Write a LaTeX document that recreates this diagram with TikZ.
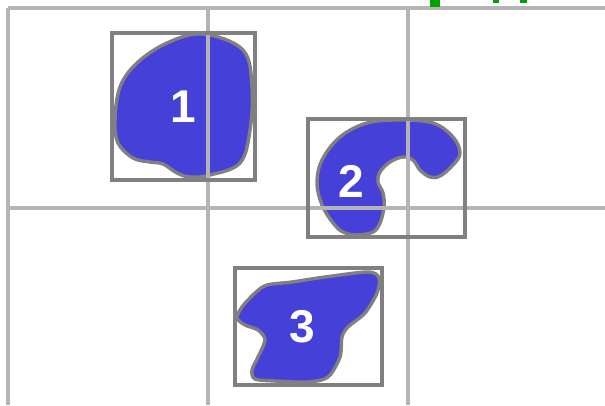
\documentclass[tikz,border=0pt]{standalone}
\usepackage{fontspec}
\setmainfont{Liberation Sans}
\definecolor{gridgray}{HTML}{B4B4B4}
\definecolor{boxgray}{HTML}{808080}
\definecolor{blobblue}{HTML}{4440D8}
\definecolor{markgreen}{HTML}{00A000}
\begin{document}
\begin{tikzpicture}[x=1pt,y=-1pt,
  gridline/.style={draw=gridgray,line width=3.2pt},
  bbox/.style={draw=boxgray,line width=3.4pt},
  blob/.style={fill=blobblue,draw=boxgray,line width=3.4pt},
  lbl/.style={text=white,font=\bfseries\fontsize{46}{46}\selectfont,inner sep=0pt},
  gmark/.style={fill=markgreen,draw=none}]
\useasboundingbox (0,0) rectangle (605,405);
% blobs
\path[blob] plot[smooth cycle,tension=0.6] coordinates {
 (203,34) (243,50) (252,87) (250,130) (240,163) (210,175) (190,177) (177,173)
 (163,164) (150,162) (133,158) (118,143) (115,120) (120,87) (137,63) (167,43)};
\path[blob] plot[smooth cycle,tension=0.6] coordinates {
 (333,223) (322,205) (317,183) (322,160) (340,137) (367,123) (400,120) (433,123)
 (453,137) (460,153) (453,165) (440,176) (430,177) (420,170) (413,160) (403,157)
 (390,162) (380,172) (378,182) (383,193) (384,207) (380,223) (373,232) (357,235) (343,232)};
\path[blob] plot[smooth cycle,tension=0.5] coordinates {
 (267,285) (292,282) (325,277) (368,272) (379,278) (377,293) (365,313) (348,327)
 (342,337) (340,357) (328,377) (308,382) (275,381) (255,379) (252,370) (258,357)
 (265,340) (258,330) (245,325) (237,318) (242,307) (255,293)};
% grid
\coordinate (g00) at (8,8);
\coordinate (g0e) at (605,8);
\coordinate (g10) at (8,208);
\coordinate (g1e) at (605,208);
\coordinate (v1t) at (208,8);
\coordinate (v1b) at (208,405);
\coordinate (v2t) at (408,8);
\coordinate (v2b) at (408,405);
\coordinate (v0b) at (8,405);
\draw[gridline] (g00) -- (g0e);
\draw[gridline] (g10) -- (g1e);
\draw[gridline] (g00) -- (v0b);
\draw[gridline] (v1t) -- (v1b);
\draw[gridline] (v2t) -- (v2b);
% boxes
\node[bbox,minimum width=143pt,minimum height=147pt,inner sep=0pt] (b1) at (183.5,106.5) {};
\node[bbox,minimum width=157pt,minimum height=118pt,inner sep=0pt] (b2) at (386.5,178) {};
\node[bbox,minimum width=147pt,minimum height=117pt,inner sep=0pt] (b3) at (308.5,326.5) {};
% labels
\node[lbl] (l1) at (183,107) {1};
\node[lbl] (l2) at (351,181) {2};
\node[lbl] (l3) at (302,327) {3};
% green marks
\fill[gmark] (430,0) rectangle (440,7);
\fill[gmark] (493,0) rectangle (499,3);
\fill[gmark] (520,0) rectangle (527,3);
\end{tikzpicture}
\end{document}
